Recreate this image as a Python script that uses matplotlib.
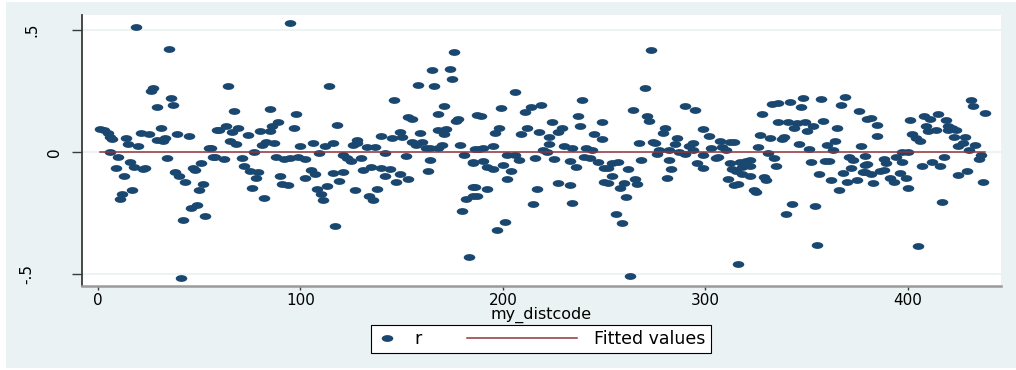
import matplotlib
matplotlib.use('Agg')
import matplotlib.pyplot as plt
from matplotlib.markers import MarkerStyle
from matplotlib.transforms import Affine2D, ScaledTranslation
from matplotlib.legend_handler import HandlerLine2D
from matplotlib.patches import Rectangle

plt.rcParams['font.family'] = ['DejaVu Sans']

# residuals by district code
dist_code = [
    19, 35, 27, 26, 36, 29, 37, 1, 3, 5, 6, 7, 14, 15, 20, 21, 25, 31, 29, 32, 33, 39, 45, 59,
    6, 10, 9, 13, 16, 18, 23, 22, 34, 38, 40, 43, 47, 48, 51, 52, 50, 12, 11, 17, 49, 46, 53, 42, 41, 55, 57,
    95, 64, 114, 67, 85, 98, 60, 63, 66, 69, 74, 80, 85, 86, 89, 97, 118,
    65, 68, 83, 87, 81, 77, 56, 58, 62, 71, 88, 92, 95, 99, 102, 100, 106, 109, 112, 116,
    72, 75, 79, 78, 90, 105, 107, 102, 116, 121, 119, 113, 108, 110, 111, 91, 94, 76, 82, 117,
    176, 165, 174, 175, 158, 166, 146, 171, 168, 153, 155, 177, 178, 187, 168, 172, 171, 159,
    140, 145, 149, 150, 128, 126, 128, 133, 137, 142, 152, 155, 157, 160, 162, 164, 168, 170,
    179, 181, 186, 121, 123, 125, 130, 164, 185, 135, 131, 140, 144, 149, 142, 147, 153, 163,
    127, 138, 134, 136, 185, 182, 185, 180, 183,
    206, 199, 239, 189, 211, 214, 219, 237, 238, 249, 198, 196, 209, 212, 218, 224, 229, 227,
    223, 223, 220, 222, 245, 249, 188, 190, 195, 202, 206, 208, 216, 225, 230, 234, 241, 244,
    240, 243, 247, 233, 236, 185, 190, 192, 195, 200, 204, 202, 227, 233, 186, 192, 187, 217,
    215, 234, 201, 197, 250, 250,
    273, 270, 264, 290, 295, 271, 272, 280, 279, 286, 299, 302, 267, 274, 275, 285, 292, 294,
    277, 282, 287, 290, 294, 299, 276, 303, 307, 308, 312, 306, 310, 268, 282, 283, 296, 299,
    305, 312, 313, 252, 257, 254, 262, 254, 252, 265, 266, 260, 258, 281, 311, 314, 261, 256,
    259, 263, 316,
    348, 357, 369, 333, 336, 342, 347, 367, 328, 376, 380, 336, 341, 345, 349, 353, 358, 344,
    350, 365, 327, 332, 338, 339, 314, 326, 346, 351, 360, 364, 363, 377, 331, 334, 335, 352,
    359, 361, 356, 362, 366, 371, 373, 372, 368, 370, 375, 378, 379, 317, 320, 322, 318, 322,
    315, 318, 322, 316, 329, 330, 324, 325, 343, 340, 354, 355,
    431, 432, 438, 415, 408, 411, 401, 419, 385, 382, 409, 410, 414, 420, 422, 424, 420, 402,
    404, 406, 385, 423, 428, 425, 427, 433, 430, 436, 435, 379, 380, 388, 389, 394, 397, 400,
    397, 407, 412, 416, 418, 379, 382, 386, 388, 391, 393, 396, 399, 383, 400, 425, 429, 437,
    417, 405,
]
resid = [
    0.51, 0.42, 0.26, 0.25, 0.22, 0.185, 0.19, 0.094, 0.09, 0.076, 0.063, 0.053, 0.058, 0.031,
    0.024, 0.076, 0.072, 0.099, 0.049, 0.045, 0.058, 0.075, 0.065, 0.09,
    0.0, -0.019, -0.067, -0.10, -0.041, -0.061, -0.064, -0.069, -0.026, -0.08, -0.098, -0.124,
    -0.067, -0.075, -0.044, -0.129, -0.155, -0.171, -0.193, -0.156, -0.216, -0.23, -0.26, -0.278,
    -0.514, 0.018, -0.019,
    0.528, 0.271, 0.271, 0.166, 0.177, 0.156, 0.09, 0.107, 0.08, 0.099, 0.069, 0.086, 0.086,
    0.107, 0.124, 0.10, 0.11,
    0.045, 0.034, 0.042, 0.038, 0.029, 0.0, 0.015, -0.019, -0.029, -0.026, -0.019, -0.029,
    -0.023, -0.019, -0.029, 0.024, 0.035, -0.003, 0.026, 0.035,
    -0.056, -0.076, -0.08, -0.105, -0.10, -0.073, -0.091, -0.105, -0.088, -0.08, -0.117, -0.139,
    -0.151, -0.171, -0.196, -0.129, -0.137, -0.148, -0.189, -0.303,
    0.407, 0.335, 0.339, 0.30, 0.272, 0.269, 0.212, 0.188, 0.154, 0.144, 0.133, 0.126, 0.135,
    0.151, 0.09, 0.094, 0.072, 0.076,
    0.067, 0.058, 0.08, 0.063, 0.049, 0.029, 0.035, 0.022, 0.019, -0.003, -0.015, 0.042, 0.029,
    0.039, 0.015, 0.018, 0.015, 0.029,
    0.029, -0.012, 0.011, -0.012, -0.023, -0.037, -0.026, -0.033, -0.046, -0.06, -0.073, -0.067,
    -0.069, -0.091, -0.1, -0.121, -0.112, -0.078,
    -0.155, -0.151, -0.18, -0.196, -0.144, -0.193, -0.182, -0.241, -0.43,
    0.244, 0.181, 0.211, 0.148, 0.162, 0.184, 0.192, 0.148, 0.107, 0.124, 0.10, 0.076, 0.073,
    0.097, 0.083, 0.121, 0.099, 0.083,
    0.061, 0.034, 0.008, 0.001, 0.073, 0.053, 0.012, 0.018, 0.023, -0.012, -0.012, -0.033,
    -0.026, -0.029, 0.024, 0.015, 0.015, 0.008,
    -0.019, -0.026, -0.039, -0.037, -0.06, -0.039, -0.035, -0.06, -0.069, -0.053, -0.078, -0.11,
    -0.125, -0.137, -0.144, -0.151, -0.178, -0.151,
    -0.212, -0.207, -0.287, -0.318, -0.067, -0.121,
    0.415, 0.26, 0.173, 0.188, 0.171, 0.148, 0.127, 0.10, 0.076, 0.058, 0.094, 0.065, 0.037,
    0.042, 0.035, 0.031, 0.026, 0.038,
    0.008, 0.008, 0.001, -0.01, 0.008, -0.012, -0.01, 0.018, 0.045, 0.022, 0.042, -0.019, 0.008,
    -0.033, -0.033, -0.071, -0.046, -0.067,
    -0.026, -0.046, -0.069, -0.067, -0.039, -0.046, -0.069, -0.098, -0.125, -0.11, -0.132,
    -0.128, -0.148, -0.105, -0.11, -0.135, -0.185, -0.254,
    -0.291, -0.509, -0.458,
    0.222, 0.218, 0.223, 0.195, 0.199, 0.203, 0.184, 0.19, 0.155, 0.167, 0.135, 0.121, 0.121,
    0.117, 0.124, 0.107, 0.127, 0.097,
    0.087, 0.099, 0.069, 0.059, 0.053, 0.061, 0.042, 0.022, 0.034, 0.011, 0.029, 0.045, 0.01,
    0.023, -0.005, -0.026, -0.056, -0.042,
    -0.037, -0.037, -0.09, -0.113, -0.154, -0.02, -0.033, -0.064, -0.086, -0.121, -0.113, -0.08,
    -0.053, -0.039, -0.037, -0.033, -0.06, -0.056,
    -0.078, -0.091, -0.097, -0.132, -0.101, -0.114, -0.155, -0.162, -0.212, -0.254, -0.219,
    -0.382,
    0.212, 0.188, 0.159, 0.155, 0.147, 0.135, 0.132, 0.129, 0.11, 0.137, 0.107, 0.086, 0.091,
    0.107, 0.097, 0.088, 0.088, 0.075,
    0.059, 0.045, 0.065, 0.061, 0.061, 0.026, 0.035, 0.029, 0.008, -0.012, -0.03, -0.015, -0.05,
    -0.03, -0.046, -0.019, -0.001, 0.001,
    -0.039, -0.056, -0.039, -0.056, -0.022, -0.08, -0.091, -0.078, -0.075, -0.107, -0.121,
    -0.087, -0.105, -0.128, -0.146, -0.094, -0.078, -0.121,
    -0.203, -0.384,
]

# fitted line of r on my_distcode
fit_x = [1, 438]
fit_y = [0.0, 0.0]

x_ticks = [0, 100, 200, 300, 400]
y_ticks = [-0.5, 0, 0.5]
y_ticklabels = ['-.5', '0', '.5']
# horizontal nudge (pixels) for each y tick label
y_label_shift = [-28, 0, -22]

navy = '#1a476f'
maroon = '#90353b'
bg = '#eaf2f3'


class NarrowMarkerHandler(HandlerLine2D):
    # marker-only entries get a short handle box
    def legend_artist(self, legend, orig_handle, fontsize, handlebox):
        handlebox.width = 1.2 * fontsize
        return super().legend_artist(legend, orig_handle, fontsize, handlebox)


fig = plt.figure(figsize=(10.16, 3.7), dpi=100, facecolor='white')
fig.patches.append(Rectangle((6 / 1016, 2 / 370), 1010 / 1016, 366 / 370,
                             transform=fig.transFigure, facecolor=bg,
                             edgecolor='none', zorder=-1))
ax = fig.add_axes([82 / 1016, 1 - 286 / 370, 919 / 1016, 271 / 370])
ax.set_facecolor('white')

ell = MarkerStyle('o', transform=Affine2D().scale(1.7, 1.0))
pts, = ax.plot(dist_code, resid, ls='none', marker=ell, ms=4.9,
               mfc=navy, mec=navy, mew=0, label='r', zorder=3)
fit, = ax.plot(fit_x, fit_y, color=maroon, lw=1.1, label='Fitted values', zorder=4)

ax.set_xlim(-7.9, 446)
ax.set_ylim(-0.548, 0.56)
ax.set_xticks(x_ticks)
ax.set_yticks(y_ticks)
ax.set_yticklabels(y_ticklabels, rotation=90, va='center')
ax.yaxis.grid(True, color=bg, lw=1.3)
ax.set_axisbelow(True)

for side in ['top', 'right']:
    ax.spines[side].set_visible(False)
ax.spines['left'].set_color('#3a3a3a')
ax.spines['left'].set_linewidth(1.3)
ax.spines['bottom'].set_color('#9a9a9a')
ax.spines['bottom'].set_linewidth(1.8)

ax.tick_params(axis='y', length=7.5, width=1, color='#3a3a3a', pad=7, labelsize=11)
ax.tick_params(axis='x', length=3, width=1, color='#3a3a3a', pad=2, labelsize=11)
ax.set_xlabel('my_distcode', fontsize=11.5, labelpad=-1)

# nudge y labels after tick_params, which resets their transforms
for lbl, dx in zip(ax.get_yticklabels(), y_label_shift):
    lbl.set_transform(lbl.get_transform() + ScaledTranslation(dx / 100, 0, fig.dpi_scale_trans))

leg = fig.legend(handles=[pts, fit], labels=['r', 'Fitted values'], loc='center',
                 bbox_to_anchor=(541 / 1016, 1 - 339 / 370), ncol=2,
                 frameon=True, fancybox=False, edgecolor='black', framealpha=1,
                 handlelength=6.3, handletextpad=1.0, columnspacing=2.6,
                 borderpad=0.3, fontsize=12.5,
                 handler_map={pts: NarrowMarkerHandler(numpoints=1)})
leg.get_frame().set_linewidth(0.8)

plt.savefig('out.png', dpi=100, facecolor=fig.get_facecolor())
